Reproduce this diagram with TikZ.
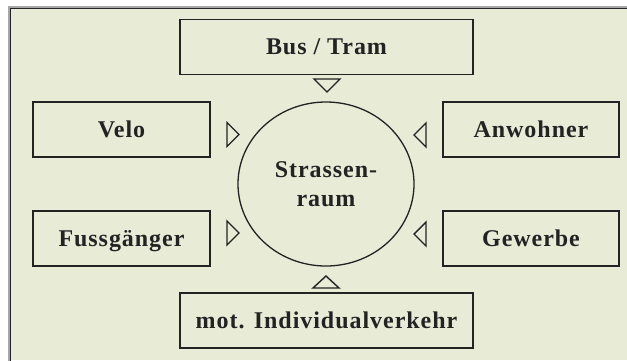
\documentclass[tikz,border=0pt]{standalone}
\usepackage{fontspec}
\usetikzlibrary{shapes.geometric}
\setmainfont{Liberation Serif}[LetterSpace=4]
\definecolor{bgc}{RGB}{232,236,215}
\definecolor{ink}{RGB}{35,35,35}
\tikzset{
  box/.style={draw=ink, line width=1.8pt, minimum width=#1, minimum height=55pt, inner sep=0pt, text height=15.5pt, text depth=0pt, font=\fontsize{24}{28}\selectfont\bfseries, text=ink},
  tri/.style={draw=ink, line width=1.4pt, line join=miter}
}
\begin{document}
\begin{tikzpicture}[x=1pt,y=-1pt]
\useasboundingbox (0,0) rectangle (627,360);
\fill[white] (0,0) rectangle (627,360);
\fill[bgc] (9,7) rectangle (627,360);
\draw[gray!70, line width=2pt] (9,362) -- (9,7) -- (629,7);
\draw[ink, line width=1pt] (10,362) -- (10,8) -- (629,8);
% boxes
\node[box=293pt] (bus) at (326.5,47) {Bus / Tram};
\node[box=177pt] (velo) at (121.5,129.5) {Velo};
\node[box=176pt] (anw) at (531,129.5) {Anwohner};
\node[box=177pt] (fuss) at (121.5,238.5) {Fussgänger};
\node[box=176pt] (gew) at (531,238.5) {Gewerbe};
\node[box=293pt] (mot) at (326.5,320.5) {mot. Individualverkehr};
% centre
\node[draw=ink, line width=1.3pt, ellipse, minimum width=176pt, minimum height=164pt, inner sep=0pt, align=center,
  font=\fontsize{24}{29}\selectfont\bfseries, text=ink] (sr) at (326,184) {Strassen-\\raum};
% triangles
\draw[tri] (314,79) -- (340,79) -- (327,92) -- cycle;
\draw[tri] (313,288) -- (339,288) -- (326,276) -- cycle;
\draw[tri] (227,122.5) -- (227,146.5) -- (239,134.5) -- cycle;
\draw[tri] (227,221) -- (227,245) -- (239,233) -- cycle;
\draw[tri] (426,123) -- (426,147) -- (414,135) -- cycle;
\draw[tri] (426,222) -- (426,246) -- (414,234) -- cycle;
\end{tikzpicture}
\end{document}
